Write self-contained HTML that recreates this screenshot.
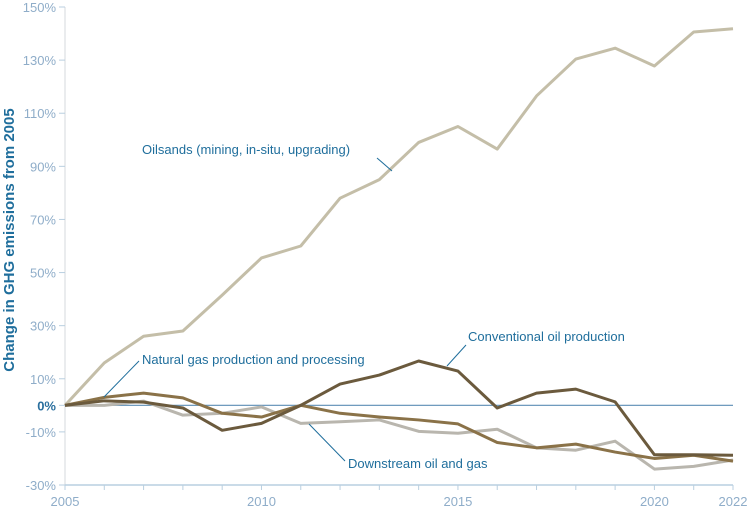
<!DOCTYPE html>
<html><head><meta charset="utf-8"><style>
body{margin:0;background:#fff}
svg{display:block;font-family:"Liberation Sans","DejaVu Sans",sans-serif}
</style></head><body>
<svg id="chart" width="750" height="512" viewBox="0 0 750 512" xmlns="http://www.w3.org/2000/svg"></svg>
<script>
const years=[2005,2006,2007,2008,2009,2010,2011,2012,2013,2014,2015,2016,2017,2018,2019,2020,2021,2022];
const oilsands=[0,16,26,28,41.5,55.5,60,78,85,99,105,96.5,116.5,130.4,134.5,127.8,140.6,141.8];
const conventional=[0,1.7,1.2,-1,-9.4,-6.8,0,8,11.4,16.7,12.9,-1,4.6,6.1,1.3,-18.6,-18.6,-18.8];
const naturalGas=[0,3,4.6,2.8,-3,-4.4,0,-3,-4.4,-5.5,-7,-14,-16,-14.6,-17.6,-20,-18.8,-21];
const downstream=[0,0,1.6,-3.7,-3,-0.6,-6.8,-6.2,-5.5,-9.8,-10.5,-9,-16,-16.9,-13.5,-24,-23,-20.6];
const yTicks=[150,130,110,90,70,50,30,10,0,-10,-30];
const xLabels=[2005,2010,2015,2020,2022];

const svg=document.getElementById('chart');
const NS='http://www.w3.org/2000/svg';
const x0=65,x1=733,yTop=7,yBot=485,vMin=-30,vMax=150;
const X=y=>x0+(y-2005)*(x1-x0)/(2022-2005);
const Y=v=>yBot-(v-vMin)*(yBot-yTop)/(vMax-vMin);
function mk(tag,attrs,parent){const e=document.createElementNS(NS,tag);for(const k in attrs)e.setAttribute(k,attrs[k]);(parent||svg).appendChild(e);return e;}

// axes
let ax=mk('line',{x1:x0,y1:yTop,x2:x0,y2:yBot,stroke:'#d5d8dc','stroke-width':1});


let bx=mk('line',{x1:x0,y1:yBot,x2:x1,y2:yBot,stroke:'#b9cfe0','stroke-width':1.5});


years.forEach(yr=>{
  const t=mk('line',{x1:X(yr),y1:yBot,x2:X(yr),y2:yBot+5,stroke:'#b9cfe0','stroke-width':1});
  
  
});
yTicks.forEach(v=>{
  const t=mk('line',{x1:x0-6,y1:Y(v),x2:x0,y2:Y(v),stroke:'#b9cfe0','stroke-width':1});
  
  
  const l=mk('text',{x:x0-9,y:Y(v)+5,'text-anchor':'end','font-size':13,fill:v===0?'#2a6f9e':'#8fadc9','font-weight':v===0?'bold':'normal'});
  l.textContent=v+'%';
  
  
});
xLabels.forEach(yr=>{
  const l=mk('text',{x:X(yr),y:yBot+21,'text-anchor':'middle','font-size':13,fill:'#8fadc9'});
  l.textContent=yr;
  
  
});
let zl=mk('line',{x1:x0,y1:Y(0),x2:x1,y2:Y(0),stroke:'#5b8db5','stroke-width':1.2});



let yt=mk('text',{x:0,y:0,transform:'translate(14,240) rotate(-90)','text-anchor':'middle','font-size':15,'font-weight':'bold',fill:'#1f6e9c'});
yt.textContent='Change in GHG emissions from 2005';



function series(vals,color,name){
  const d=vals.map((v,i)=>(i?'L':'M')+X(years[i])+' '+Y(v)).join(' ');
  const p=mk('path',{d:d,fill:'none',stroke:color,'stroke-width':3,'stroke-linejoin':'round'});
  
  
}
series(downstream,'#b9b6ae','downstream-line');
series(oilsands,'#c4bea8','oilsands-line');
series(naturalGas,'#8a7248','natural-gas-line');
series(conventional,'#6b5a3d','conventional-oil-line');

function label(txt,tx,ty,lx1,ly1,lx2,ly2,name){
  const l=mk('line',{x1:lx1,y1:ly1,x2:lx2,y2:ly2,stroke:'#1f6e9c','stroke-width':1});
  
  
  const t=mk('text',{x:tx,y:ty,'font-size':13,fill:'#1f6e9c'});
  t.textContent=txt;
  
  
}
label('Oilsands (mining, in-situ, upgrading)',142,154,377,158,392,171,'oilsands-label');
label('Natural gas production and processing',142,364,139,361,104,397,'natural-gas-label');
label('Conventional oil production',468,341,466,345,447,366,'conventional-oil-label');
label('Downstream oil and gas',348,468,345,461,309,424,'downstream-label');
</script>
</body></html>
